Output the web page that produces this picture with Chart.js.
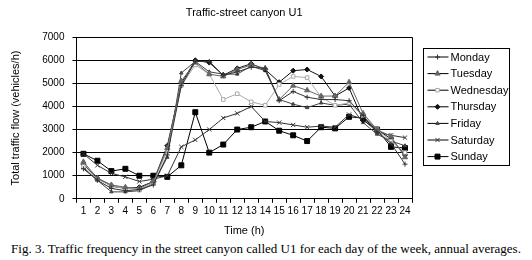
<!DOCTYPE html>
<html>
<head>
<meta charset="utf-8">
<script src="https://cdn.jsdelivr.net/npm/chart.js@4.4.1/dist/chart.umd.min.js"></script>
<style>
  html, body { margin: 0; padding: 0; background: #fff; }
  #wrap { width: 532px; height: 260px; position: relative; }
  #caption {
    position: absolute; left: 0; top: 241px; width: 532px;
    text-align: center; font-family: "Liberation Serif", serif; font-size: 13px; color: #000;
    white-space: nowrap;
  }
</style>
</head>
<body>
<div id="wrap">
  <canvas id="grafico" width="532" height="238"></canvas>
  <div id="caption">Fig. 3. Traffic frequency in the street canyon called U1 for each day of the week, annual averages.</div>
</div>
<script>
// Datos (vehículos/h por hora del día)
const horas = ["1","2","3","4","5","6","7","8","9","10","11","12","13","14","15","16","17","18","19","20","21","22","23","24"];
const dias = ["Monday", "Tuesday", "Wednesday", "Thursday", "Friday", "Saturday", "Sunday"];

const monday    = [1300, 800, 450, 350, 400, 600, 1900, 4900, 5950, 5950, 5350, 5500, 5700, 5650, 4250, 4650, 4400, 4300, 4300, 4250, 3600, 2900, 2400, 1500];
const tuesday   = [1600, 900, 600, 500, 450, 750, 2200, 5100, 5900, 5400, 5300, 5600, 5800, 5650, 4300, 4900, 4700, 4450, 4450, 5050, 3700, 3000, 2700, 1800];
const wednesday = [1400, 850, 550, 450, 400, 700, 2100, 4900, 5800, 5400, 4300, 4550, 4200, 4050, 4950, 5300, 5250, 4400, 4050, 4150, 3600, 3000, 2500, 2000];
const thursday  = [1500, 900, 550, 450, 500, 750, 2300, 5000, 6000, 5900, 5350, 5650, 5850, 5600, 5050, 5550, 5600, 5300, 4450, 4800, 3400, 3000, 2600, 1900];
const friday    = [1350, 800, 300, 300, 350, 650, 1800, 5450, 5950, 5500, 5400, 5400, 5750, 5550, 4300, 4100, 3950, 4150, 4050, 4100, 3300, 2800, 2500, 2300];
const saturday  = [1950, 1450, 1100, 950, 750, 850, 1000, 2250, 2550, 3000, 3500, 3700, 4000, 3350, 3300, 3200, 3100, 3150, 3100, 3650, 3450, 2900, 2750, 2650];
const sunday    = [1950, 1650, 1200, 1300, 1000, 1000, 950, 1450, 3750, 2000, 2350, 3000, 3100, 3350, 2950, 2750, 2500, 3100, 3050, 3550, 3500, 3000, 2250, 2200];

const series = [monday, tuesday, wednesday, thursday, friday, saturday, sunday];

// estilo de cada serie
const estilos = [
  { color: "#333", fill: "#333", point: "cross", r: 2.5 },
  { color: "#666", fill: "#666", point: "triangle", r: 3 },
  { color: "#aaa", fill: "#fff", point: "rect", r: 2.5 },
  { color: "#111", fill: "#111", point: "rectRot", r: 2.5 },
  { color: "#444", fill: "#444", point: "triangle", r: 2 },
  { color: "#333", fill: "#333", point: "crossRot", r: 3 },
  { color: "#000", fill: "#000", point: "rect", r: 3.5 }
];

const FONT = "'Liberation Sans', Arial, sans-serif";

// marco derecho + leyenda con borde
const leyendaPlugin = {
  id: "leyenda",
  afterDraw(chart) {
    const ctx = chart.ctx;
    const a = chart.chartArea;
    ctx.save();
    ctx.strokeStyle = "#000";
    ctx.lineWidth = 1;
    ctx.beginPath();
    ctx.moveTo(Math.round(a.right) + 0.5, a.top);
    ctx.lineTo(Math.round(a.right) + 0.5, a.bottom);
    ctx.stroke();

    const bx = Math.round(a.right) + 11.5, by = 48.5, bw = 86, bh = 117;
    ctx.strokeRect(bx, by, bw, bh);
    ctx.font = "11px " + FONT;
    ctx.textBaseline = "middle";
    chart.data.datasets.forEach((ds, i) => {
      const y = 57 + i * 16.6;
      ctx.strokeStyle = "#000";
      ctx.lineWidth = 1;
      ctx.beginPath();
      ctx.moveTo(bx + 4, y);
      ctx.lineTo(bx + 25, y);
      ctx.stroke();
      ctx.fillStyle = ds.pointBackgroundColor;
      ctx.strokeStyle = ds.pointBorderColor;
      Chart.helpers.drawPoint(ctx, { pointStyle: ds.pointStyle, radius: ds.pointRadius, rotation: 0, borderWidth: 1 }, bx + 14, y);
      ctx.fillStyle = "#000";
      ctx.fillText(ds.label, bx + 27, y + 0.5);
    });
    ctx.restore();
  }
};

new Chart(document.getElementById("grafico"), {
  type: "line",
  data: {
    labels: horas,
    datasets: dias.map((d, i) => ({
      label: d,
      data: series[i],
      borderColor: estilos[i].color,
      borderWidth: 1,
      tension: 0,
      pointStyle: estilos[i].point,
      pointRadius: estilos[i].r,
      pointBackgroundColor: estilos[i].fill,
      pointBorderColor: estilos[i].color,
      pointBorderWidth: 1
    }))
  },
  options: {
    responsive: false,
    animation: false,
    devicePixelRatio: 1,
    layout: { padding: { top: 4, right: 120, left: 9, bottom: 0 } },
    plugins: {
      legend: { display: false },
      tooltip: { enabled: false },
      title: {
        display: true,
        text: "Traffic-street canyon U1",
        fullSize: false,
        color: "#000",
        font: { family: FONT, size: 11, weight: "normal" },
        padding: { top: 2, bottom: 18 }
      }
    },
    scales: {
      x: {
        offset: true,
        grid: { offset: true, drawOnChartArea: false, color: "#000", tickLength: 4 },
        border: { color: "#000" },
        ticks: { color: "#000", font: { family: FONT, size: 10 }, maxRotation: 0, autoSkip: false, padding: 2 },
        title: { display: true, text: "Time (h)", color: "#000", font: { family: FONT, size: 11 }, padding: { top: 6, bottom: 0 } }
      },
      y: {
        min: 0,
        max: 7000,
        grid: { color: "#000", tickLength: 4 },
        border: { color: "#000" },
        ticks: { stepSize: 1000, color: "#000", font: { family: FONT, size: 10 }, padding: 8, callback: v => String(v) },
        title: { display: true, text: "Total traffic flow (vehicles/h)", color: "#000", font: { family: FONT, size: 11 }, padding: { top: 0, bottom: 12 } }
      }
    }
  },
  plugins: [leyendaPlugin]
});
</script>
</body>
</html>
